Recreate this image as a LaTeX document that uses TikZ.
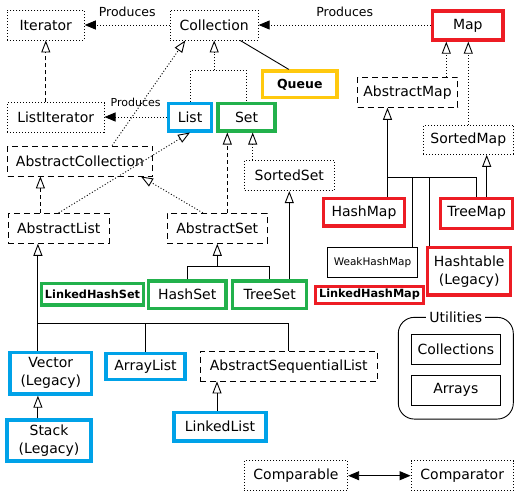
\documentclass[tikz,border=0pt]{standalone}
\usepackage{fontspec}
\setmainfont{DejaVu Sans}
\usetikzlibrary{arrows.meta,calc}
\definecolor{cred}{RGB}{237,28,36}
\definecolor{cblue}{RGB}{0,162,232}
\definecolor{cgreen}{RGB}{34,177,76}
\definecolor{cyellow}{RGB}{255,201,14}
\begin{document}
\begin{tikzpicture}[x=1pt,y=-1pt,
  box/.style={inner sep=0pt, align=center, font=\fontsize{14}{18}\selectfont, line width=0.9pt},
  sz/.style 2 args={minimum width=#1pt, minimum height=#2pt},
  iface/.style={box, draw, dash pattern=on 1pt off 2pt},
  absbox/.style={box, draw, dash pattern=on 6pt off 4pt},
  plainbox/.style={box, draw},
  redbox/.style={box, draw=cred, line width=3.3pt},
  bluebox/.style={box, draw=cblue, line width=3.3pt},
  greenbox/.style={box, draw=cgreen, line width=3.3pt},
  yellowbox/.style={box, draw=cyellow, line width=3.3pt},
  boldsmall/.style={font=\fontsize{11.3}{13}\selectfont\bfseries},
  conn/.style={line width=0.9pt},
  dotline/.style={conn, dash pattern=on 1pt off 2pt},
  dashline/.style={conn, dash pattern=on 4pt off 3pt},
  openhead/.style={-{Triangle[open,length=12pt,width=9pt]}},
  fillhead/.style={-{Triangle[length=11pt,width=9pt]}},
  lbl/.style={inner sep=0pt, font=\fontsize{12.5}{14}\selectfont}
]
\useasboundingbox (0,0) rectangle (530,499);
\fill[white] (0,0) rectangle (530,499);

% nodes
\node[iface, sz={77}{30}] (Iterator) at (45.8,25) {Iterator};
\node[iface, sz={88}{30}] (Collection) at (214.2,25) {Collection};
\node[redbox, sz={70.5}{29}] (Map) at (467.8,25.5) {Map};
\node[iface, sz={96.7}{30}] (ListIterator) at (55.7,117.7) {ListIterator};
\node[bluebox, sz={43.4}{27.7}] (List) at (190,117) {List};
\node[greenbox, sz={57}{27.7}] (Set) at (246.5,117) {Set};
\node[yellowbox, sz={74.5}{26.5}, font=\fontsize{12.5}{15}\selectfont\bfseries] (Queue) at (299.8,84.3) {Queue};
\node[absbox, sz={100}{30}] (AbstractMap) at (407.5,92.3) {AbstractMap};
\node[iface, sz={90}{29.3}] (SortedMap) at (468.3,139.7) {SortedMap};
\node[absbox, sz={145}{30}] (AbstractCollection) at (80,161) {AbstractCollection};
\node[iface, sz={89.3}{30.7}] (SortedSet) at (289.3,175.3) {SortedSet};
\node[absbox, sz={100.7}{30}] (AbstractList) at (58.7,228.3) {AbstractList};
\node[absbox, sz={100}{30}] (AbstractSet) at (217.3,228.3) {AbstractSet};
\node[redbox, sz={80.6}{27.7}] (HashMap) at (364,212.2) {HashMap};
\node[redbox, sz={72}{30}] (TreeMap) at (476.7,213.3) {TreeMap};
\node[plainbox, sz={90.4}{30}, font=\fontsize{10.5}{12}\selectfont] (WeakHashMap) at (372.5,262.3) {WeakHashMap};
\node[redbox, sz={83}{47.3}] (Hashtable) at (469.2,271.3) {Hashtable\\(Legacy)};
\node[redbox, line width=3pt, sz={107.6}{17.3}, boldsmall] (LinkedHashMap) at (369.5,294.7) {LinkedHashMap};
\node[greenbox, sz={101.6}{21.7}, boldsmall] (LinkedHashSet) at (92.5,294.2) {LinkedHashSet};
\node[greenbox, sz={77.7}{27.3}] (HashSet) at (187.2,294.7) {HashSet};
\node[greenbox, sz={74}{27.5}] (TreeSet) at (269.7,294.7) {TreeSet};
\node[bluebox, sz={81.7}{41.7}] (Vector) at (50.8,373.2) {Vector\\(Legacy)};
\node[bluebox, sz={79}{26}] (ArrayList) at (145.5,366.3) {ArrayList};
\node[absbox, sz={177.7}{29.3}] (ASL) at (288.8,366.3) {AbstractSequentialList};
\node[bluebox, sz={84}{41}] (Stack) at (49,440.5) {Stack\\(Legacy)};
\node[bluebox, sz={92}{28.7}] (LinkedList) at (220,426.7) {LinkedList};
\node[iface, sz={103.4}{30}] (Comparable) at (296,475.7) {Comparable};
\node[iface, sz={102.3}{30}] (Comparator) at (462.2,475.7) {Comparator};
\node[draw, line width=0.9pt, rounded corners=16pt, minimum width=115pt, minimum height=101.7pt] (Utilities) at (455.8,368.2) {};
\node[fill=white, inner xsep=3pt, inner ysep=1pt, font=\fontsize{14}{16}\selectfont] (UtilLabel) at (Utilities.north) {Utilities};
\node[plainbox, sz={89.7}{30}] (Collections) at (455.8,349.3) {Collections};
\node[plainbox, sz={89.7}{30}] (Arrays) at (455.8,390) {Arrays};

% Produces
\draw[dotline, fillhead] (Collection.west) -- (Iterator.east);
\node[lbl] (prod1) at ($(Iterator.east)!0.5!(Collection.west)+(0,-13)$) {Produces};
\draw[dotline, fillhead] (Map.west |- Collection.east) -- (Collection.east);
\node[lbl] (prod2) at ($(Collection.east)!0.5!(Map.west)+(0,-13.5)$) {Produces};
\draw[dotline, fillhead] (List.west) -- (ListIterator.east |- List.west);
\node[lbl, font=\fontsize{11}{12}\selectfont] (prod3) at ($(ListIterator.east)!0.5!(List.west)+(0,-15)$) {Produces};

% Iterator
\draw[dashline, openhead] (Iterator.south |- ListIterator.north) -- (Iterator.south);

% Collection tree
\coordinate (jc) at ($(Collection.south)+(0,30)$);
\draw[dotline] (List.north) -- (List.north |- jc) -- (Set.north |- jc) -- (Set.north);
\draw[dotline, openhead] (jc) -- (Collection.south);
\draw[dotline, openhead] ($(AbstractCollection.north)!0.44!(AbstractCollection.north east)$) -- ($(Collection.south)!0.65!(Collection.south west)$);
\draw[conn] ($(Collection.south)+(26,0)$) -- ($(Queue.north)+(-11,0)$);

% Lists
\draw[dotline, openhead] (AbstractList.north) -- (List.south);
\coordinate (alTop) at ($(AbstractList.north west)+(32.5,0)$);
\draw[dashline, openhead] (alTop) -- (alTop |- AbstractCollection.south);

% Sets
\draw[dotline, openhead] ($(AbstractSet.north west)+(36,0)$) -- ($(AbstractCollection.south east)+(-12,0)$);
\coordinate (asTop) at ($(AbstractSet.north)+(10,0)$);
\draw[dashline, openhead] (asTop) -- (asTop |- Set.south);
\coordinate (ssTop) at ($(SortedSet.north west)+(8.5,0)$);
\draw[dotline, openhead] (ssTop) -- (ssTop |- Set.south);
\coordinate (jas) at ($(AbstractSet.south)+(0,22.5)$);
\draw[conn] (HashSet.north) -- (HashSet.north |- jas) -- (TreeSet.north |- jas) -- (TreeSet.north);
\draw[conn, openhead] (jas) -- (AbstractSet.south);
\draw[conn, openhead] (SortedSet.south |- TreeSet.north) -- (SortedSet.south);

% Maps
\coordinate (amTop) at ($(Map.south)+(-21.5,0)$);
\draw[dotline, openhead] (amTop |- AbstractMap.north) -- (amTop);
\draw[dotline, openhead] (SortedMap.north) -- (SortedMap.north |- Map.south);
\coordinate (jm) at ($(AbstractMap.south)+(-20,70)$);
\draw[conn, openhead] (jm) -- (jm |- AbstractMap.south);
\draw[conn] (jm) -- (jm |- HashMap.north);
\draw[conn] (jm) -- (TreeMap.north |- jm) -- (TreeMap.north);
\coordinate (wk) at ($(WeakHashMap.north east)+(-6,0)$);
\draw[conn] (wk |- jm) -- (wk);
\coordinate (ht) at ($(Hashtable.north west)+(3,0)$);
\draw[conn] (ht |- jm) -- (ht);
\coordinate (tmTop) at ($(TreeMap.north)+(10,0)$);
\draw[conn, openhead] (tmTop) -- (tmTop |- SortedMap.south);

% List implementations
\coordinate (jl) at ($(AbstractList.south west)+(30,80)$);
\draw[conn, openhead] (jl) -- (jl |- AbstractList.south);
\draw[conn] (jl) -- (jl |- Vector.north);
\draw[conn] (jl) -- (ASL.north |- jl) -- (ASL.north);
\draw[conn] (ArrayList.north |- jl) -- (ArrayList.north);
\draw[conn, openhead] (jl |- Stack.north) -- (jl |- Vector.south);
\coordinate (llTop) at ($(LinkedList.north)+(-3,0)$);
\draw[conn, openhead] (llTop) -- (llTop |- ASL.south);

% Comparable / Comparator
\draw[conn, {Triangle[length=11pt,width=9pt]}-{Triangle[length=11pt,width=9pt]}] (Comparable.east) -- (Comparator.west);
\end{tikzpicture}
\end{document}
